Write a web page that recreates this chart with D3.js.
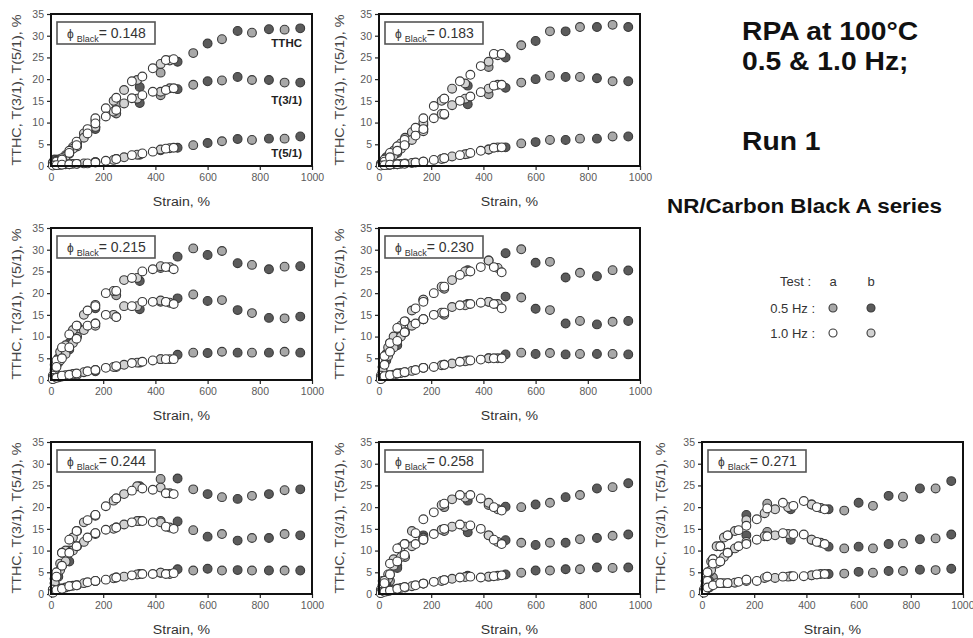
<!DOCTYPE html>
<html>
<head>
<meta charset="utf-8">
<script src="https://cdn.jsdelivr.net/npm/d3@7"></script>
<style>
  html, body { margin: 0; padding: 0; background: #fff; }
  svg { display: block; font-family: "Liberation Sans", Arial, sans-serif; }
</style>
</head>
<body>
<svg id="chart" width="973" height="638"></svg>
<script>
// ---- data -------------------------------------------------------------
// filler volume fraction of each compound (one panel per compound)
const phiLabels = ["0.148", "0.183", "0.215", "0.230", "0.244", "0.258", "0.271"];

// strain programs (%) of the four strain sweeps
const strain05a = [14, 42, 100, 250, 420, 545, 655, 770, 895];
const strain05b = [28, 70, 170, 340, 485, 600, 715, 835, 955];
const strain10a = [7, 21, 42, 70, 98, 140, 170, 210, 250, 310, 350, 390, 440, 470];
const strain10b = [14, 35, 56, 84, 126, 170, 240, 280, 330, 420, 455];

// TTHC (%) per compound, per sweep
const tthc05a = [
  [1.5, 1.6, 5.2, 14.3, 21.5, 26.0, 29.2, 30.7, 31.4],
  [1.0, 2.8, 6.5, 15.5, 22.8, 27.8, 31.0, 32.0, 32.5],
  [3.5, 7.0, 12.5, 19.5, 25.8, 30.3, 29.7, 26.5, 26.1],
  [3.0, 8.5, 13.5, 21.0, 27.5, 30.1, 27.2, 24.7, 25.3],
  [3.5, 9.5, 14.5, 22.0, 26.5, 24.1, 22.3, 22.6, 23.9],
  [3.0, 4.5, 11.5, 20.0, 20.5, 20.0, 21.0, 22.8, 24.6],
  [3.0, 8.0, 13.5, 20.8, 20.6, 19.2, 20.3, 22.4, 24.3]
];
const tthc05b = [
  [1.5, 3.0, 9.0, 18.2, 24.0, 28.2, 31.1, 31.5, 31.7],
  [2.0, 4.5, 9.5, 18.5, 25.0, 28.8, 31.0, 32.0, 32.0],
  [5.0, 8.5, 16.5, 22.8, 28.4, 28.8, 26.9, 25.5, 26.2],
  [6.0, 10.0, 18.5, 25.3, 29.2, 27.0, 23.6, 23.9, 25.2],
  [5.0, 10.0, 18.2, 24.8, 26.6, 23.0, 21.9, 23.0, 24.1],
  [2.5, 6.5, 13.5, 21.5, 20.1, 20.6, 22.3, 24.3, 25.5],
  [5.0, 11.0, 18.2, 19.5, 19.5, 21.0, 22.6, 24.3, 26.0]
];
const tthc10a = [
  [0.8, 1.2, 1.8, 3.5, 5.6, 8.5, 11.0, 13.3, 15.7, 19.5, 20.6, 22.5, 24.4, 24.6],
  [0.5, 1.5, 3.0, 4.5, 6.0, 8.8, 11.0, 13.8, 15.5, 19.5, 21.0, 23.0, 25.8, 25.8],
  [1.0, 4.5, 7.5, 10.5, 12.5, 16.0, 17.0, 20.0, 20.5, 23.5, 25.0, 25.5, 26.0, 25.5],
  [1.0, 5.5, 8.5, 12.0, 13.5, 16.5, 18.0, 20.0, 21.5, 24.2, 25.0, 26.0, 26.0, 24.8],
  [1.0, 5.0, 9.5, 12.5, 14.5, 17.0, 18.2, 20.2, 22.0, 23.8, 24.3, 24.0, 23.2, 23.0],
  [1.0, 3.0, 7.0, 10.5, 11.5, 14.0, 17.2, 18.8, 20.8, 22.8, 22.8, 22.0, 20.0, 19.2],
  [1.0, 5.0, 8.0, 11.0, 13.5, 14.7, 15.7, 17.2, 19.7, 21.0, 20.3, 21.4, 20.0, 19.5]
];
const tthc10b = [
  [1.0, 1.5, 2.5, 4.4, 7.5, 10.5, 15.0, 17.5, 19.8, 23.5, 24.3],
  [1.0, 2.2, 3.5, 5.2, 7.8, 10.0, 15.0, 17.8, 19.0, 24.0, 25.5],
  [2.0, 6.5, 8.0, 11.5, 15.0, 17.3, 20.5, 23.0, 23.5, 26.2, 26.0],
  [3.0, 7.5, 10.0, 12.5, 16.0, 18.5, 21.5, 23.0, 25.0, 27.5, 25.8],
  [3.5, 7.0, 10.0, 13.0, 16.5, 18.0, 21.5, 23.0, 24.8, 24.5, 23.2],
  [2.0, 4.5, 8.0, 10.8, 14.5, 13.0, 20.5, 21.8, 22.2, 21.0, 19.5],
  [3.0, 7.5, 11.0, 13.0, 14.5, 17.0, 18.6, 19.5, 20.0, 20.6, 19.8]
];

// T(3/1) (%)
const t3_05a = [
  [1.3, 1.4, 4.5, 12.1, 16.3, 18.7, 19.7, 19.8, 19.2],
  [0.8, 2.0, 5.0, 11.8, 16.5, 19.2, 20.8, 20.5, 19.5],
  [2.5, 5.5, 10.0, 14.5, 18.0, 19.7, 18.4, 15.4, 14.2],
  [2.0, 6.5, 11.0, 15.0, 18.0, 19.0, 16.1, 13.6, 13.4],
  [2.5, 6.5, 11.0, 15.3, 16.8, 14.7, 13.8, 12.9, 13.8],
  [2.0, 3.0, 8.5, 14.5, 13.5, 11.8, 11.8, 12.6, 13.4],
  [2.0, 7.0, 9.5, 14.3, 12.5, 10.5, 10.5, 11.6, 12.8]
];
const t3_05b = [
  [1.3, 2.8, 8.5, 14.5, 17.7, 19.5, 20.5, 19.8, 19.2],
  [1.5, 3.0, 8.5, 14.2, 18.0, 20.0, 20.5, 20.2, 19.5],
  [4.0, 7.0, 13.0, 16.3, 18.8, 18.2, 16.1, 14.3, 14.6],
  [4.5, 8.0, 14.0, 17.5, 19.2, 16.4, 13.0, 12.8, 13.6],
  [4.0, 7.5, 14.0, 16.8, 16.7, 13.2, 12.3, 12.9, 13.5],
  [1.5, 6.0, 12.5, 14.2, 12.4, 11.3, 11.8, 12.9, 13.7],
  [3.0, 7.5, 13.5, 12.5, 10.9, 10.9, 11.5, 12.6, 13.7]
];
const t3_10a = [
  [0.6, 1.0, 1.5, 3.0, 4.8, 7.5, 9.8, 11.4, 12.9, 15.6, 16.3, 17.1, 17.5, 17.9],
  [0.3, 1.0, 2.0, 3.5, 4.8, 7.0, 8.5, 11.0, 12.0, 15.0, 16.0, 17.0, 18.5, 18.7],
  [0.5, 3.0, 5.0, 7.5, 9.5, 12.5, 13.0, 15.0, 14.5, 17.0, 18.0, 18.0, 18.0, 17.5],
  [0.5, 3.5, 6.5, 9.0, 11.0, 13.0, 14.0, 15.0, 15.5, 17.2, 17.5, 17.8, 17.5, 16.5],
  [1.0, 4.0, 6.5, 9.5, 11.0, 13.0, 14.0, 14.8, 15.3, 16.5, 16.8, 16.5, 15.5, 15.0],
  [0.5, 2.5, 4.5, 7.5, 9.0, 11.5, 12.5, 13.8, 15.0, 16.0, 15.8, 15.0, 12.5, 11.5],
  [0.5, 3.0, 7.0, 7.5, 9.5, 11.0, 11.5, 12.5, 13.3, 14.0, 13.8, 13.7, 12.0, 11.5]
];
const t3_10b = [
  [0.8, 1.3, 2.2, 4.0, 6.5, 9.0, 12.5, 14.4, 15.5, 17.1, 17.9],
  [0.7, 1.5, 2.5, 4.0, 6.0, 8.0, 12.0, 14.0, 15.5, 17.8, 18.7],
  [1.5, 4.5, 6.0, 8.5, 11.5, 12.5, 15.0, 17.0, 17.0, 18.3, 17.8],
  [2.0, 5.5, 7.5, 10.0, 12.5, 14.0, 15.5, 16.8, 17.2, 18.0, 17.5],
  [2.5, 5.5, 7.5, 10.0, 12.0, 13.8, 15.0, 16.0, 16.8, 16.5, 15.3],
  [1.5, 3.5, 6.5, 8.5, 11.0, 12.8, 14.8, 15.5, 15.5, 13.5, 12.0],
  [2.0, 5.5, 7.0, 8.5, 10.5, 12.0, 13.3, 13.5, 13.8, 12.5, 11.8]
];

// T(5/1) (%)
const t5_05a = [
  [0.3, 0.4, 0.5, 1.6, 3.6, 4.8, 5.7, 6.0, 6.3],
  [0.2, 0.3, 0.6, 1.8, 3.8, 5.2, 6.0, 6.3, 6.8],
  [0.5, 0.8, 1.2, 3.0, 4.8, 6.3, 6.5, 6.3, 6.5],
  [0.6, 1.1, 1.8, 3.5, 5.0, 6.3, 6.2, 6.0, 6.0],
  [0.8, 1.3, 2.0, 3.8, 4.9, 5.4, 5.4, 5.4, 5.4],
  [0.5, 0.8, 1.5, 3.2, 4.0, 4.9, 5.4, 5.7, 6.0],
  [1.0, 3.8, 2.5, 4.0, 4.3, 4.7, 4.9, 5.3, 5.5]
];
const t5_05b = [
  [0.3, 0.4, 0.9, 2.6, 4.2, 5.3, 6.2, 6.3, 6.8],
  [0.3, 0.4, 1.0, 2.8, 4.3, 5.5, 6.0, 6.3, 6.8],
  [0.6, 1.0, 2.0, 4.0, 5.8, 6.2, 6.3, 6.3, 6.3],
  [0.9, 1.5, 2.8, 4.5, 5.9, 6.0, 5.9, 6.0, 5.9],
  [1.0, 1.8, 3.0, 4.6, 5.7, 5.8, 5.5, 5.4, 5.4],
  [0.6, 1.2, 2.4, 4.2, 4.5, 5.4, 5.7, 6.1, 6.1],
  [1.5, 2.5, 3.3, 4.1, 4.6, 5.1, 5.3, 5.6, 5.8]
];
const t5_10a = [
  [0.1, 0.2, 0.3, 0.4, 0.5, 0.6, 0.8, 1.2, 1.6, 2.5, 2.9, 3.3, 4.0, 4.2],
  [0.1, 0.2, 0.3, 0.4, 0.5, 0.8, 1.0, 1.4, 1.8, 2.5, 3.0, 3.5, 4.2, 4.3],
  [0.2, 0.5, 1.0, 1.2, 1.5, 2.0, 2.3, 2.8, 3.2, 3.9, 4.2, 4.5, 4.8, 4.8],
  [0.2, 0.9, 1.1, 1.5, 1.8, 2.3, 2.8, 3.0, 3.5, 4.2, 4.5, 4.7, 5.0, 5.0],
  [0.3, 0.9, 1.2, 1.8, 2.0, 2.7, 3.0, 3.3, 3.8, 4.3, 4.6, 4.6, 4.6, 4.8],
  [0.2, 0.5, 0.8, 1.2, 1.6, 2.0, 2.4, 2.8, 3.2, 3.8, 4.0, 3.8, 4.1, 4.3],
  [0.3, 1.5, 2.0, 2.5, 2.5, 2.8, 3.3, 3.0, 4.0, 4.0, 4.1, 4.1, 4.5, 4.6]
];
const t5_10b = [
  [0.2, 0.3, 0.4, 0.5, 0.6, 0.9, 1.4, 2.0, 2.6, 3.8, 4.1],
  [0.2, 0.3, 0.4, 0.5, 0.7, 1.0, 1.6, 2.2, 2.7, 3.8, 4.3],
  [0.4, 0.8, 1.1, 1.4, 1.8, 2.3, 3.0, 3.5, 4.0, 4.8, 4.8],
  [0.6, 1.0, 1.2, 1.6, 2.1, 2.8, 3.4, 3.8, 4.3, 5.0, 5.0],
  [0.8, 1.2, 1.5, 1.9, 2.5, 3.0, 3.6, 4.0, 4.5, 4.9, 4.6],
  [0.5, 0.8, 1.0, 1.4, 1.8, 2.4, 3.0, 3.5, 3.9, 4.0, 4.2],
  [1.0, 2.0, 2.5, 2.5, 2.6, 3.0, 3.7, 3.7, 4.0, 4.3, 4.6]
];

const harmonicLabels = ["TTHC", "T(3/1)", "T(5/1)"];
const xTicks = [0, 200, 400, 600, 800, 1000];
const yTicks = [0, 5, 10, 15, 20, 25, 30, 35];
const legendTests = ["a", "b"];
const legendFreqs = ["0.5 Hz :", "1.0 Hz :"];
const titleLines = ["RPA at 100°C", "0.5 & 1.0 Hz;"];
const runLabel = "Run 1";
const seriesLabel = "NR/Carbon Black A series";

// ---- layout ------------------------------------------------------------
const colX = [51, 379, 702];
const rowY = [14, 228, 442];
const yTitleX = [17, 340, 661];
const plotW = 261, plotH = 152;
const panelCells = [[0, 0], [0, 1], [1, 0], [1, 1], [2, 0], [2, 1], [2, 2]];
const harmonicLabelAt = [28.3, 15.2, 3.0];

// marker fill per sweep (drawn in this order)
const sweeps = [
  { strain: strain05a, sets: [tthc05a, t3_05a, t5_05a], fill: "#a8a8a8" },
  { strain: strain05b, sets: [tthc05b, t3_05b, t5_05b], fill: "#5b5b5b" },
  { strain: strain10b, sets: [tthc10b, t3_10b, t5_10b], fill: "#d2d2d2" },
  { strain: strain10a, sets: [tthc10a, t3_10a, t5_10a], fill: "#ffffff" }
];
const markerStroke = "#3a3a3a";

const svg = d3.select("#chart");
svg.append("rect").attr("width", 973).attr("height", 638).attr("fill", "#fff");

// stretch text along its baseline
function widen(sel, k) {
  sel.each(function () {
    const w = this.getComputedTextLength();
    d3.select(this).attr("textLength", w * k).attr("lengthAdjust", "spacingAndGlyphs");
  });
}

phiLabels.forEach((phi, p) => {
  const [r, c] = panelCells[p];
  const x0 = colX[c], yTop = rowY[r], yBot = yTop + plotH;
  const x = d3.scaleLinear().domain([0, 1000]).range([x0, x0 + plotW]);
  const y = d3.scaleLinear().domain([0, 35]).range([yBot, yTop]);
  const g = svg.append("g");

  // axes
  const ay = g.append("g").attr("transform", `translate(${x0},0)`)
    .call(d3.axisLeft(y).tickValues(yTicks).tickFormat(d3.format("d")).tickSize(4).tickPadding(3));
  const ax = g.append("g").attr("transform", `translate(0,${yBot})`)
    .call(d3.axisBottom(x).tickValues(xTicks).tickFormat(d3.format("d")).tickSize(4).tickPadding(4));
  [ay, ax].forEach(a => {
    a.select(".domain").remove();
    a.selectAll(".tick line").attr("stroke", "#222").attr("stroke-width", 1.2);
    a.selectAll(".tick text").attr("fill", "#5a5a5a")
      .style("font-family", "'Liberation Sans', Arial, sans-serif").style("font-size", "10.5px");
  });
  // keep the last label of the right-most column inside the page
  if (c === 2) {
    ax.selectAll(".tick text").filter(d => d === 1000).attr("text-anchor", "end").attr("dx", 11);
  }

  // markers
  const dots = g.append("g");
  sweeps.forEach(s => {
    s.sets.forEach(set => {
      const vals = set[p];
      dots.selectAll(null).data(s.strain.map((st, i) => [st, vals[i]]))
        .enter().append("circle")
        .attr("cx", d => x(d[0])).attr("cy", d => y(d[1])).attr("r", 4.4)
        .attr("fill", s.fill).attr("stroke", markerStroke).attr("stroke-width", 1.1);
    });
  });

  // frame
  g.append("rect").attr("x", x0).attr("y", yTop).attr("width", plotW).attr("height", plotH)
    .attr("fill", "none").attr("stroke", "#111").attr("stroke-width", 2);

  // phi label box
  const bx = x0 + 6, by = yTop + 8;
  g.append("rect").attr("x", bx).attr("y", by).attr("width", 98).attr("height", 22)
    .attr("fill", "#fff").attr("stroke", "#555").attr("stroke-width", 1.6);
  const t = g.append("text").attr("x", bx + 10).attr("y", by + 16).attr("fill", "#333");
  t.append("tspan").text("ϕ").style("font-size", "12px");
  t.append("tspan").attr("dx", 3).attr("dy", 4).text("Black").style("font-size", "9px");
  t.append("tspan").attr("dy", -4).text("= " + phi).style("font-size", "14px");

  // axis titles
  const xt = g.append("text").attr("x", x0 + plotW / 2).attr("y", yBot + 40)
    .attr("text-anchor", "middle").attr("fill", "#333").style("font-size", "12.5px").text("Strain, %");
  widen(xt, 1.13);
  const yt = g.append("text")
    .attr("transform", `translate(${yTitleX[c]},${yTop + plotH / 2}) rotate(-90)`)
    .attr("text-anchor", "middle").attr("dy", "0.35em").attr("fill", "#444")
    .style("font-size", "12.5px").text("TTHC, T(3/1), T(5/1), %");
  widen(yt, 1.15);

  // harmonic names on the first panel
  if (p === 0) {
    harmonicLabels.forEach((lab, i) => {
      g.append("text").attr("x", x0 + 251).attr("y", y(harmonicLabelAt[i])).attr("dy", "0.35em")
        .attr("text-anchor", "end").attr("fill", "#222").style("font-size", "11.5px")
        .style("font-weight", "bold").text(lab);
    });
  }
});

// titles
const titles = svg.append("g").attr("fill", "#111").style("font-weight", "bold");
titleLines.forEach((line, i) => {
  const tt = titles.append("text").attr("x", 742).attr("y", 40 + i * 30).style("font-size", "25px").text(line);
  widen(tt, 1.13);
});
widen(titles.append("text").attr("x", 742).attr("y", 150).style("font-size", "25px").text(runLabel), 1.13);
widen(titles.append("text").attr("x", 667).attr("y", 213).style("font-size", "19.5px").text(seriesLabel), 1.15);

// legend
const lg = svg.append("g").attr("fill", "#333").style("font-size", "13px");
lg.append("text").attr("x", 811).attr("y", 286).attr("text-anchor", "end").text("Test :");
const legendX = [833, 871];
legendTests.forEach((tname, i) => {
  lg.append("text").attr("x", legendX[i]).attr("y", 286).attr("text-anchor", "middle").text(tname);
});
const legendFill = [["#a8a8a8", "#5b5b5b"], ["#ffffff", "#d2d2d2"]];
legendFreqs.forEach((f, j) => {
  const cy = 308 + j * 25;
  lg.append("text").attr("x", 815).attr("y", cy).attr("dy", "0.35em").attr("text-anchor", "end").text(f);
  legendTests.forEach((tname, i) => {
    lg.append("circle").attr("cx", legendX[i]).attr("cy", cy).attr("r", 4)
      .attr("fill", legendFill[j][i]).attr("stroke", markerStroke).attr("stroke-width", 1.1);
  });
});
</script>
</body>
</html>
